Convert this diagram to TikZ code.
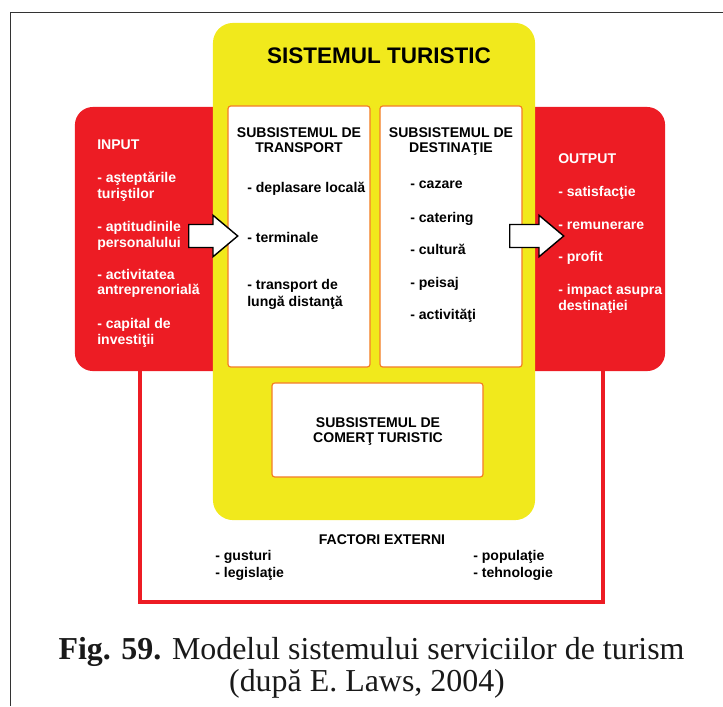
\documentclass[tikz,border=0pt]{standalone}
\usepackage{fontspec}
\setmainfont{Liberation Serif}
\setsansfont{Liberation Sans}
\usetikzlibrary{shapes.arrows}
\definecolor{myred}{HTML}{ED1C24}
\definecolor{myyellow}{HTML}{F1E91C}
\definecolor{myorange}{HTML}{F47B20}
\tikzset{
	redbox/.style={
			shape=rectangle,
			rounded corners=0.45cm,
			fill=myred,
			inner sep=0pt
		},
	yellowbox/.style={
			shape=rectangle,
			rounded corners=0.5cm,
			fill=myyellow,
			inner sep=0pt
		},
	subbox/.style={
			shape=rectangle,
			rounded corners=2pt,
			draw=myorange,
			line width=0.8pt,
			fill=white,
			inner sep=0pt
		},
	blockarrow/.style={
			single arrow,
			draw=black,
			line width=1pt,
			fill=white,
			inner xsep=0pt,
			inner ysep=0.27cm,
			single arrow head extend=0.23cm,
			single arrow tip angle=80,
			anchor=tail
		},
	redline/.style={
			draw=myred,
			line width=2.2pt
		},
	frameline/.style={
			draw=black!80,
			line width=1pt
		}
}
\tikzset{
	titletext/.style={font=\sffamily\bfseries\fontsize{16}{19}\selectfont, inner sep=0pt, anchor=base},
	headtext/.style={font=\sffamily\bfseries\fontsize{10}{12}\selectfont, inner sep=0pt, anchor=base},
	itemtext/.style={font=\sffamily\bfseries\fontsize{10}{12}\selectfont, inner sep=0pt, anchor=base west},
	whitetext/.style={itemtext, text=white},
	captext/.style={font=\rmfamily\fontsize{22.7}{27}\selectfont, text=black!90, inner sep=0pt, anchor=base}
}
\begin{document}
\begin{tikzpicture}[x=0.025cm, y=-0.025cm]

              \useasboundingbox (0,0) rectangle (723,706);

              \coordinate (f1) at (10.5,706);
              \coordinate (f2) at (10.5,12.5);
              \coordinate (f3) at (723,12.5);
              \draw[frameline] (f1) -- (f2) -- (f3);

              \node[redbox, minimum width=14.75cm, minimum height=6.6cm] (rb) at (370,239) {};
              \coordinate (el) at (140,602);
              \coordinate (er) at (603,602);
              \draw[redline] (rb.south -| el) -- (el) -- (er) -- (rb.south -| er);

              \node[yellowbox, minimum width=8.05cm, minimum height=12.425cm] (yb) at (374,271.5) {};

              \node[subbox, minimum width=3.55cm, minimum height=6.525cm] (tr) at (299,236.5) {};
              \node[subbox, minimum width=3.55cm, minimum height=6.525cm] (de) at (451,236.5) {};
              \node[subbox, minimum width=5.275cm, minimum height=2.35cm] (co) at (377.5,430) {};

              \node[blockarrow, minimum height=1.225cm] (ain) at (188,236) {};
              \node[blockarrow, minimum height=1.35cm] (aout) at (509,236) {};

              \node[titletext] (t0) at (379,63) {SISTEMUL TURISTIC};

              \node[whitetext] (in0) at (97,149) {INPUT};
              \node[whitetext] (in1) at (97,182) {- aşteptările};
              \node[whitetext] (in2) at (97,198) {turiştilor};
              \node[whitetext] (in3) at (97,231) {- aptitudinile};
              \node[whitetext] (in4) at (97,247) {personalului};
              \node[whitetext] (in5) at (97,279) {- activitatea};
              \node[whitetext] (in6) at (97,294) {antreprenorială};
              \node[whitetext] (in7) at (97,328) {- capital de};
              \node[whitetext] (in8) at (97,344) {investiţii};

              \node[headtext] (th1) at (299,137) {SUBSISTEMUL DE};
              \node[headtext] (th2) at (299,152) {TRANSPORT};
              \node[itemtext] (tr1) at (247,192) {- deplasare locală};
              \node[itemtext] (tr2) at (247,242) {- terminale};
              \node[itemtext] (tr3) at (247,289) {- transport de};
              \node[itemtext] (tr4) at (247,306) {lungă distanţă};

              \node[headtext] (dh1) at (451,137) {SUBSISTEMUL DE};
              \node[headtext] (dh2) at (451,152) {DESTINAŢIE};
              \node[itemtext] (de1) at (410,188) {- cazare};
              \node[itemtext] (de2) at (410,222) {- catering};
              \node[itemtext] (de3) at (410,254) {- cultură};
              \node[itemtext] (de4) at (410,287) {- peisaj};
              \node[itemtext] (de5) at (410,319) {- activităţi};

              \node[whitetext] (out0) at (558,163) {OUTPUT};
              \node[whitetext] (out1) at (558,196) {- satisfacţie};
              \node[whitetext] (out2) at (558,229) {- remunerare};
              \node[whitetext] (out3) at (558,261) {- profit};
              \node[whitetext] (out4) at (558,294) {- impact asupra};
              \node[whitetext] (out5) at (558,310) {destinaţiei};

              \node[headtext] (ch1) at (378,427) {SUBSISTEMUL DE};
              \node[headtext] (ch2) at (378,442) {COMERŢ TURISTIC};

              \node[headtext] (fx0) at (382,544) {FACTORI EXTERNI};
              \node[itemtext] (fx1) at (215,560) {- gusturi};
              \node[itemtext] (fx2) at (215,577) {- legislaţie};
              \node[itemtext] (fx3) at (473,560) {- populaţie};
              \node[itemtext] (fx4) at (473,577) {- tehnologie};

              \node[captext] (cap1) at (371.5,659) {\textbf{Fig. 59.} Modelul sistemului serviciilor de turism};
              \node[captext] (cap2) at (367,691) {(după E. Laws, 2004)};

            \end{tikzpicture}
\end{document}
